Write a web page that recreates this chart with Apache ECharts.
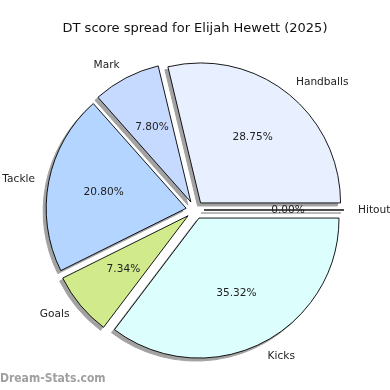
<!DOCTYPE html>
<html>
<head>
<meta charset="utf-8">
<script src="https://cdn.jsdelivr.net/npm/echarts@6/dist/echarts.min.js"></script>
<style>html,body{margin:0;padding:0;background:#fff}#c{width:390px;height:390px}</style>
</head>
<body>
<div id="c"></div>
<script>
const categories = ['Handballs', 'Mark', 'Tackle', 'Goals', 'Kicks', 'Hitout'];
const shares = [28.75, 7.80, 20.80, 7.34, 35.32, 0.00];
const colors = ['#e8f0ff', '#c6d9ff', '#b4d5ff', '#d0ea8c', '#dcfffe', '#d8d8d8'];
const titleText = 'DT score spread for Elijah Hewett (2025)';
const watermark = 'Dream-Stats.com';

const FONT = '"DejaVu Sans", sans-serif';
const CX = 195, CY = 210;
const R = 140;
const OFF = 9;
const SH = 3;

const mainData = categories.map((n, i) => ({
  name: n, value: shares[i], selected: true,
  itemStyle: { color: colors[i] }
}));
const plainData = categories.map((n, i) => ({
  name: n, value: shares[i], selected: true
}));

const common = {
  type: 'pie',
  startAngle: 0, clockwise: false,
  selectedMode: 'multiple', selectedOffset: OFF,
  avoidLabelOverlap: false,
  minShowLabelAngle: 0,
  stillShowZeroSum: true,
  silent: true,
  emphasis: { disabled: true }
};

const chart = echarts.init(document.getElementById('c'), null, { renderer: 'canvas' });
chart.setOption({
  animation: false,
  backgroundColor: '#fff',
  title: {
    text: titleText, left: 'center', top: 17,
    textStyle: { fontFamily: FONT, fontSize: 13, fontWeight: 'normal', color: '#111' }
  },
  graphic: [{
    type: 'text', left: 0, top: 373,
    style: { text: watermark, font: 'bold 12px "DejaVu Sans Condensed", "DejaVu Sans", sans-serif', fill: '#a0a0a0' }
  }],
  series: [Object.assign({}, common, {
    // shadow layer
    center: [CX - SH, CY + SH], radius: R, z: 1,
    itemStyle: { color: '#a2a2a2', borderColor: '#a2a2a2', borderWidth: 1 },
    label: { show: false }, labelLine: { show: false },
    data: plainData
  }), Object.assign({}, common, {
    center: [CX, CY], radius: R, z: 2,
    itemStyle: { borderColor: '#000', borderWidth: 0.9 },
    label: {
      show: true, position: 'outside', formatter: '{b}',
      fontFamily: FONT, fontSize: 10.6, color: '#222', distanceToLabelLine: 0
    },
    labelLine: { show: false, length: 14, length2: 0 },
    data: mainData
  }), Object.assign({}, common, {
    center: [CX, CY], radius: [22, R], z: 5,
    itemStyle: { color: 'rgba(0,0,0,0)', borderWidth: 0 },
    label: {
      show: true, position: 'inside',
      formatter: p => p.value.toFixed(2) + '%',
      fontFamily: FONT, fontSize: 10.6, color: '#222'
    },
    labelLine: { show: false },
    data: plainData
  })]
});
</script>
</body>
</html>
